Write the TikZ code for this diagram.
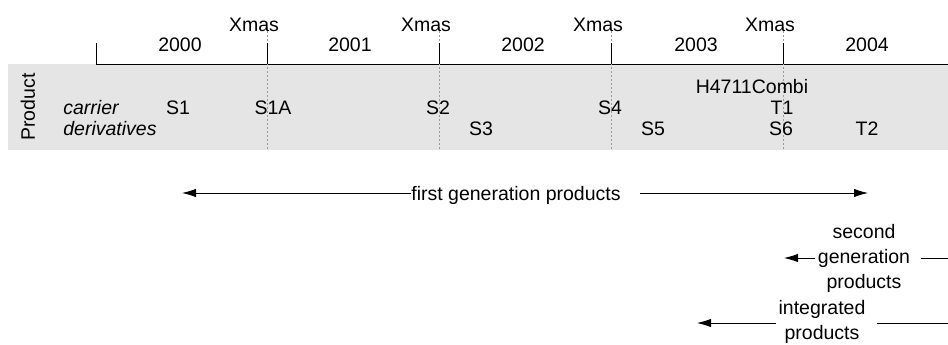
\documentclass[tikz,border=0pt]{standalone}
\usepackage{fontspec}
\setmainfont{Liberation Sans}
\usetikzlibrary{positioning,arrows.meta,calc}

\definecolor{bandgray}{HTML}{E5E5E5}
\definecolor{xmasgray}{HTML}{9A9A9A}

\begin{document}
\begin{tikzpicture}[x=0.5pt, y=-0.5pt, >={Latex[length=7pt,width=4.2pt]},
  every node/.style={font=\fontsize{9.75}{12.5}\selectfont, inner sep=0pt},
  label/.style={anchor=base}]
  \useasboundingbox (0,0) rectangle (948,344);
  \fill[bandgray] (8,64) rectangle (948,150);

  % time axis
  \draw (96,43) -- (96,64) -- (948,64);
  \foreach \x/\n in {267/1,439/2,611/3,783/4} {
    \draw[xmasgray, dash pattern=on 1pt off 1pt] (\x,27) -- (\x,150);
    \draw (\x,43) -- (\x,64);
    \node[label] (xmas\n) at (\x-13,31) {Xmas};
  }
  \foreach \x/\yr in {180/2000,350/2001,523/2002,696/2003,867/2004}
    \node[label] (year\yr) at (\x,51) {\yr};

  % row heading
  \node[rotate=90] (product) at (28,107) {Product};
  \node[anchor=base west] (carrier) at (63,114) {\itshape carrier};
  \node[anchor=base west] (deriv) at (63,135) {\itshape derivatives};

  % products
  \node[label] (s1) at (178,114) {S1};
  \node[label] (s1a) at (273,114) {S1A};
  \node[label] (s2) at (438,114) {S2};
  \node[label] (s3) at (481,135) {S3};
  \node[label] (s4) at (610,114) {S4};
  \node[label] (s5) at (653,135) {S5};
  \node[label] (combi) at (752,93) {H4711Combi};
  \node[label] (t1) at (782,114) {T1};
  \node[label] (s6) at (781,135) {S6};
  \node[label] (t2) at (867,135) {T2};

  % generations
  \node[label] (first) at (516,200) {first generation products};
  \coordinate (firstL) at (182,193);
  \coordinate (firstR) at (868,193);
  \draw[->] (first.west |- firstL) -- (firstL);
  \draw[->] ([xshift=9.5pt]first.east |- firstR) -- (firstR);

  \node[align=center] (second) at (864,258) {second\\generation\\products};
  \coordinate (secondL) at (784,258);
  \coordinate (secondR) at (948,258);
  \draw[->] ([xshift=-1.5pt]second.west) -- (secondL);
  \draw ([xshift=5.5pt]second.east) -- (secondR);

  \node[align=center] (integ) at (822,322) {integrated\\products};
  \coordinate (integL) at (697,323);
  \coordinate (integR) at (948,323);
  \draw[->] ([xshift=-1pt]integ.west |- integL) -- (integL);
  \draw ([xshift=5.5pt]integ.east |- integR) -- (integR);
\end{tikzpicture}
\end{document}
